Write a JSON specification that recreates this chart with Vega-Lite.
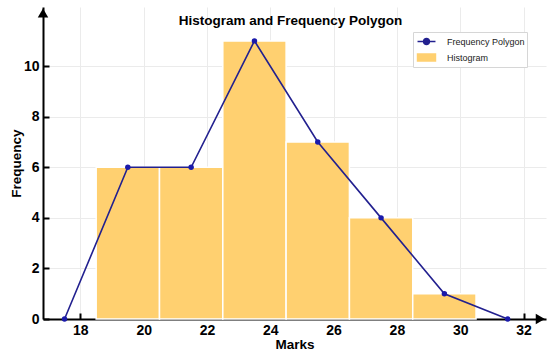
{
  "$schema": "https://vega.github.io/schema/vega-lite/v6.json",
  "width": 503,
  "height": 312,
  "autosize": "none",
  "padding": {"left": 43, "top": 7, "right": 8, "bottom": 41},
  "background": "white",
  "config": {"view": {"stroke": null}, "font": "Liberation Sans"},
  "title": {
    "text": "Histogram and Frequency Polygon",
    "font": "Liberation Sans",
    "fontSize": 13.5,
    "fontWeight": "bold",
    "color": "black",
    "anchor": "middle",
    "baseline": "alphabetic",
    "offset": -16,
    "dy": 15,
    "dx": -4
  },
  "datasets": {
    "hist": [
      {"start": 18.5, "end": 20.5, "freq": 6, "series": "Histogram"},
      {"start": 20.5, "end": 22.5, "freq": 6, "series": "Histogram"},
      {"start": 22.5, "end": 24.5, "freq": 11, "series": "Histogram"},
      {"start": 24.5, "end": 26.5, "freq": 7, "series": "Histogram"},
      {"start": 26.5, "end": 28.5, "freq": 4, "series": "Histogram"},
      {"start": 28.5, "end": 30.5, "freq": 1, "series": "Histogram"}
    ],
    "poly": [
      {"mark": 17.5, "freq": 0, "series": "Frequency Polygon"},
      {"mark": 19.5, "freq": 6, "series": "Frequency Polygon"},
      {"mark": 21.5, "freq": 6, "series": "Frequency Polygon"},
      {"mark": 23.5, "freq": 11, "series": "Frequency Polygon"},
      {"mark": 25.5, "freq": 7, "series": "Frequency Polygon"},
      {"mark": 27.5, "freq": 4, "series": "Frequency Polygon"},
      {"mark": 29.5, "freq": 1, "series": "Frequency Polygon"},
      {"mark": 31.5, "freq": 0, "series": "Frequency Polygon"}
    ]
  },
  "encoding": {
    "x": {
      "type": "quantitative",
      "scale": {"domain": [16.82, 32.71], "nice": false, "zero": false},
      "axis": {
        "values": [18, 20, 22, 24, 26, 28, 30, 32],
        "grid": true,
        "gridColor": "#ebebeb",
        "gridWidth": 1,
        "domainColor": "black",
        "domainWidth": 2,
        "tickColor": "black",
        "tickWidth": 2,
        "tickSize": -6,
        "labelPadding": 10,
        "labelFont": "Liberation Sans",
        "labelFontSize": 14,
        "labelFontWeight": "bold",
        "labelColor": "black",
        "title": "Marks",
        "titleFont": "Liberation Sans",
        "titleFontSize": 13.5,
        "titleFontWeight": "bold",
        "titleColor": "black",
        "titlePadding": 0
      }
    },
    "y": {
      "type": "quantitative",
      "scale": {"domain": [0, 12.34], "nice": false},
      "axis": {
        "values": [0, 2, 4, 6, 8, 10],
        "grid": true,
        "gridColor": "#ebebeb",
        "gridWidth": 1,
        "domainColor": "black",
        "domainWidth": 2,
        "tickColor": "black",
        "tickWidth": 2,
        "tickSize": -6,
        "labelPadding": 10,
        "labelFont": "Liberation Sans",
        "labelFontSize": 14,
        "labelFontWeight": "bold",
        "labelColor": "black",
        "title": "Frequency",
        "titleFont": "Liberation Sans",
        "titleFontSize": 13.5,
        "titleFontWeight": "bold",
        "titleColor": "black",
        "titlePadding": 0
      }
    },
    "color": {
      "field": "series",
      "type": "nominal",
      "scale": {"domain": ["Frequency Polygon", "Histogram"], "range": ["#22208f", "#FFD070"]},
      "legend": {
        "title": null,
        "orient": "none",
        "legendX": 370,
        "legendY": 25,
        "direction": "vertical",
        "strokeColor": "#d6d6d6",
        "fillColor": "white",
        "padding": 2,
        "rowPadding": 2,
        "symbolOffset": 4,
        "labelFont": "Liberation Sans",
        "labelFontSize": 9,
        "labelColor": "#222",
        "labelOffset": 13,
        "symbolSize": 169,
        "symbolStrokeWidth": 1.5,
        "encode": {
          "symbols": {
            "update": {
              "shape": {"signal": "datum.value === 'Histogram' ? 'M-1.38,-0.54H1.38V0.54H-1.38Z' : 'M-1.38,0H1.38M-0.46,0A0.46,0.46 0 1,0 0.46,0A0.46,0.46 0 1,0 -0.46,0'"},
              "fill": {"signal": "datum.value === 'Histogram' ? '#FFD070' : '#1a1aaa'"},
              "stroke": {"signal": "datum.value === 'Histogram' ? 'transparent' : '#22208f'"},
              "strokeWidth": {"value": 1.5},
              "size": {"value": 169},
              "opacity": {"value": 1}
            }
          }
        }
      }
    }
  },
  "layer": [
    {
      "data": {"name": "hist"},
      "mark": {"type": "rect", "stroke": "white", "strokeWidth": 1.5},
      "encoding": {
        "x": {"field": "start", "type": "quantitative"},
        "x2": {"field": "end"},
        "y": {"field": "freq", "type": "quantitative"},
        "y2": {"datum": 0}
      }
    },
    {
      "data": {"name": "poly"},
      "mark": {"type": "line", "strokeWidth": 1.6},
      "encoding": {
        "x": {"field": "mark", "type": "quantitative"},
        "y": {"field": "freq", "type": "quantitative"}
      }
    },
    {
      "data": {"name": "poly"},
      "mark": {"type": "point", "filled": true, "size": 30, "color": "#1a1aaa", "opacity": 1},
      "encoding": {
        "x": {"field": "mark", "type": "quantitative"},
        "y": {"field": "freq", "type": "quantitative"},
        "color": {"value": "#1a1aaa"}
      }
    },
    {
      "data": {"values": [{}]},
      "mark": {"type": "point", "shape": "triangle-right", "filled": true, "color": "black", "size": 110, "opacity": 1},
      "encoding": {
        "x": {"datum": 32.53},
        "y": {"datum": 0},
        "color": {"value": "black"}
      }
    },
    {
      "data": {"values": [{}]},
      "mark": {"type": "point", "shape": "triangle-up", "filled": true, "color": "black", "size": 110, "opacity": 1},
      "encoding": {
        "x": {"datum": 16.82},
        "y": {"datum": 12.1},
        "color": {"value": "black"}
      }
    }
  ]
}
